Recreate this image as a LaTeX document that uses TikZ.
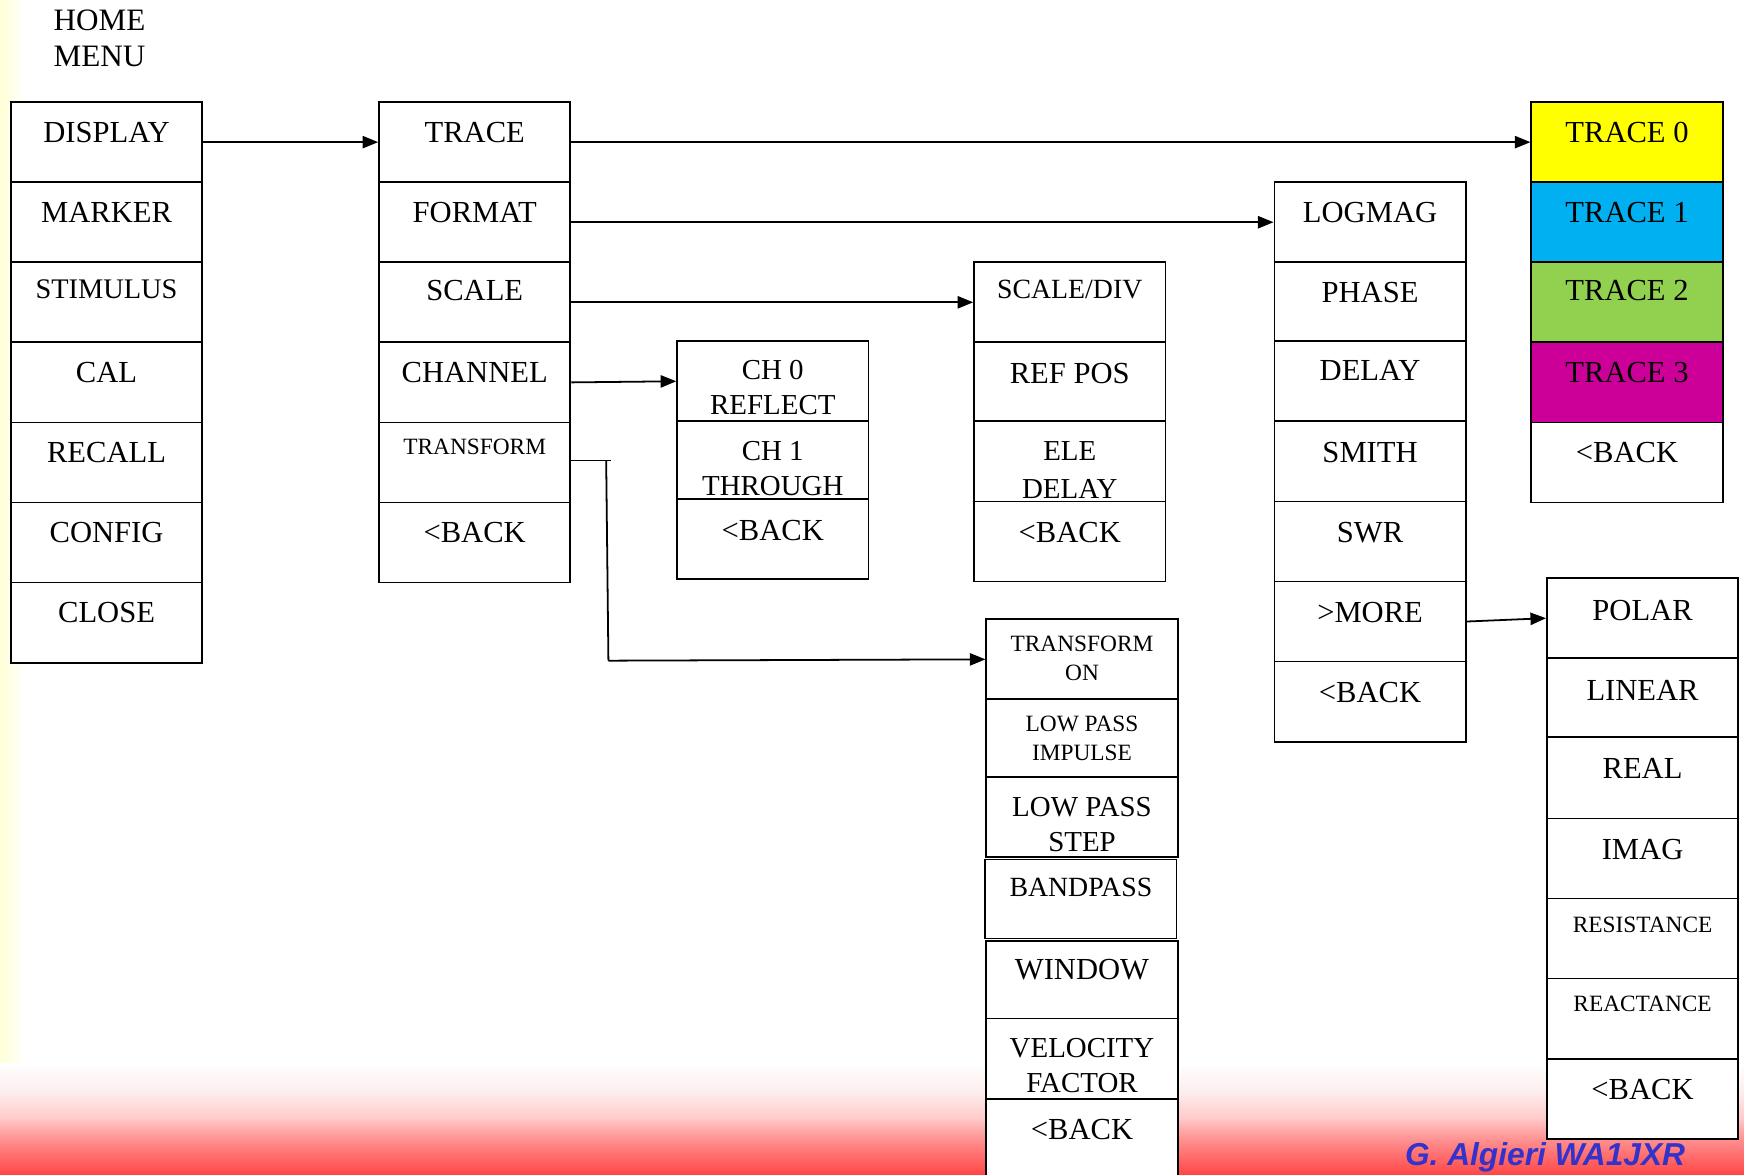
\documentclass[tikz,border=0pt]{standalone}
\usepackage{fontspec}
\setmainfont{Liberation Serif}
\newfontfamily\signfont{Liberation Sans}
\usetikzlibrary{arrows.meta}

\definecolor{tzero}{RGB}{255,255,0}
\definecolor{tone}{RGB}{0,176,240}
\definecolor{ttwo}{RGB}{146,208,80}
\definecolor{tthree}{RGB}{204,0,153}
\definecolor{signblue}{RGB}{51,51,204}
\definecolor{floorred}{RGB}{255,70,70}
\definecolor{floorpink}{RGB}{255,140,140}
\definecolor{floorlight}{RGB}{255,205,205}
\definecolor{floorpale}{RGB}{253,238,238}
\definecolor{sideyellow}{RGB}{255,255,214}

% red glow along the bottom edge of the slide
% (the shaded path covers the 25bp--75bp band of the shading)
\pgfdeclareverticalshading{floorfade}{100bp}{color(0bp)=(floorred); color(25bp)=(floorred); color(40bp)=(floorpink); color(51bp)=(floorlight); color(62.5bp)=(floorpale); color(75bp)=(white); color(100bp)=(white)}

% text sizes used inside the menu cells
\newcommand\txtL{\fontsize{27.5}{31}\selectfont}
\newcommand\txtT{\fontsize{26}{31.5}\selectfont}
\newcommand\txtM{\fontsize{25}{30}\selectfont}
\newcommand\txtS{\fontsize{21}{26}\selectfont}

\tikzset{
  cellbox/.style={draw, line width=1.6pt, inner sep=0pt, anchor=north west},
  menuarrow/.style={line width=1.6pt, -{Triangle[length=14pt,width=11pt]}},
  menuline/.style={line width=1.6pt},
}

% \cell[fill]{name}{left}{top}{height}{first baseline}{font}{text}
\newcommand\cell[8][white]{%
  \node[cellbox, fill=#1] (#2) at (#3,#4)
    {\parbox[t][#5pt][t]{172pt}{\centering#7\rule{0pt}{#6pt}#8}};}

\begin{document}
\begin{tikzpicture}[x=1pt, y=-1pt]
  % slide background
  \useasboundingbox (0,0) rectangle (1568,1056);
  \fill[white] (0,0) rectangle (1568,1056);
  \shade[left color=sideyellow, right color=white] (0,0) rectangle (22,1056);
  \shade[shading=floorfade] (0,956) rectangle (1568,1056);

  % title
  \node[anchor=base west, inner sep=0pt] (home) at (48,27)
    {\parbox[t]{150pt}{\fontsize{28}{33}\selectfont HOME\\MENU}};

  % home menu
  \cell{A1}{9}{91}{72}{36}{\txtL}{DISPLAY}
  \cell{A2}{9}{163}{72}{36}{\txtL}{MARKER}
  \cell{A3}{9}{235}{72}{33}{\fontsize{25.5}{30}\selectfont}{STIMULUS}
  \cell{A4}{9}{307}{72}{36}{\txtL}{CAL}
  \cell{A5}{9}{379}{72}{36}{\txtL}{RECALL}
  \cell{A6}{9}{451}{72}{36}{\txtL}{CONFIG}
  \cell{A7}{9}{523}{72}{36}{\txtL}{CLOSE}

  % display menu
  \cell{B1}{340}{91}{72}{36}{\txtL}{TRACE}
  \cell{B2}{340}{163}{72}{36}{\txtL}{FORMAT}
  \cell{B3}{340}{235}{72}{34}{\txtL}{SCALE}
  \cell{B4}{340}{307}{72}{36}{\txtL}{CHANNEL}
  \cell{B5}{340}{379}{72}{29}{\txtS}{TRANSFORM}
  \cell{B6}{340}{451}{72}{36}{\txtL}{<BACK}

  % channel menu
  \cell{C1}{608}{306}{72}{34}{\txtT}{CH 0\\REFLECT}
  \cell{C2}{608}{378}{70}{35}{\txtT}{CH 1\\THROUGH}
  \cell{C3}{608}{448}{72}{37}{\txtL}{<BACK}

  % scale menu
  \cell{D1}{875}{235}{72}{33}{\txtM}{SCALE/DIV}
  \cell{D2}{875}{307}{71}{37}{\txtL}{REF POS}
  \cell{D3}{875}{378}{72}{35}{\txtT}{ELE\\[3pt]DELAY}
  \cell{D4}{875}{450}{72}{37}{\txtL}{<BACK}

  % transform menu
  \cell{E1}{886}{556}{72}{29}{\txtS}{TRANSFORM\\ON}
  \cell{E2}{886}{628}{70}{29}{\txtS}{LOW PASS\\IMPULSE}
  \cell{E3}{886}{698}{72}{35}{\txtT}{LOW PASS\\STEP}
  \cell{E4}{885}{772}{71}{33.5}{\txtM}{BANDPASS}
  \cell{E5}{886}{845}{70}{35}{\txtL}{WINDOW}
  \cell{E6}{886}{915}{72}{35}{\txtT}{VELOCITY\\FACTOR}
  \cell{E7}{886}{987}{80}{37}{\txtL}{<BACK}

  % format menu
  \cell{F1}{1145}{163}{72}{36}{\txtL}{LOGMAG}
  \cell{F2}{1145}{235}{71}{36}{\txtL}{PHASE}
  \cell{F3}{1145}{306}{72}{35}{\txtL}{DELAY}
  \cell{F4}{1145}{378}{72}{37}{\txtL}{SMITH}
  \cell{F5}{1145}{450}{72}{37}{\txtL}{SWR}
  \cell{F6}{1145}{522}{72}{37}{\txtL}{>MORE}
  \cell{F7}{1145}{594}{72}{37}{\txtL}{<BACK}

  % trace menu
  \cell[tzero]{G1}{1376}{91}{72}{36}{\txtL}{TRACE 0}
  \cell[tone]{G2}{1376}{163}{72}{36}{\txtL}{TRACE 1}
  \cell[ttwo]{G3}{1376}{235}{72}{34}{\txtL}{TRACE 2}
  \cell[tthree]{G4}{1376}{307}{72}{36}{\txtL}{TRACE 3}
  \cell{G5}{1376}{379}{72}{36}{\txtL}{<BACK}

  % more formats
  \cell{H1}{1390}{519}{72}{38}{\txtL}{POLAR}
  \cell{H2}{1390}{591}{71}{38}{\txtL}{LINEAR}
  \cell{H3}{1390}{662}{73}{37}{\txtL}{REAL}
  \cell{H4}{1390}{735}{72}{37}{\txtL}{IMAG}
  \cell{H5}{1390}{807}{72}{31}{\txtS}{RESISTANCE}
  \cell{H6}{1390}{879}{72}{30}{\txtS}{REACTANCE}
  \cell{H7}{1390}{951}{72}{37}{\txtL}{<BACK}

  % menu links
  \draw[menuarrow] (A1.east) -- (B1.west);
  \draw[menuarrow] (B1.east) -- (G1.west);
  \draw[menuarrow] (B2.east) -- (F1.west);
  \draw[menuarrow] (B3.east) -- (D1.west);
  \draw[menuarrow] (B4.east) -- (C1.west);
  \draw[menuarrow] (F6.east) -- (H1.west);

  % transform branch
  \coordinate (tfa) at (549,414);
  \coordinate (tfb) at (545,414);
  \coordinate (tfc) at (547,594);
  \draw[menuline] (B5.east |- tfa) -- (tfa);
  \draw[menuline] (tfb) -- (tfc);
  \draw[menuarrow] (tfc) -- (E1.west);

  % author
  \node[anchor=base west, inner sep=0pt, text=signblue] (sign) at (1263,1048)
    {\signfont\bfseries\itshape\fontsize{28.5}{30}\selectfont G. Algieri WA1JXR};
\end{tikzpicture}
\end{document}
